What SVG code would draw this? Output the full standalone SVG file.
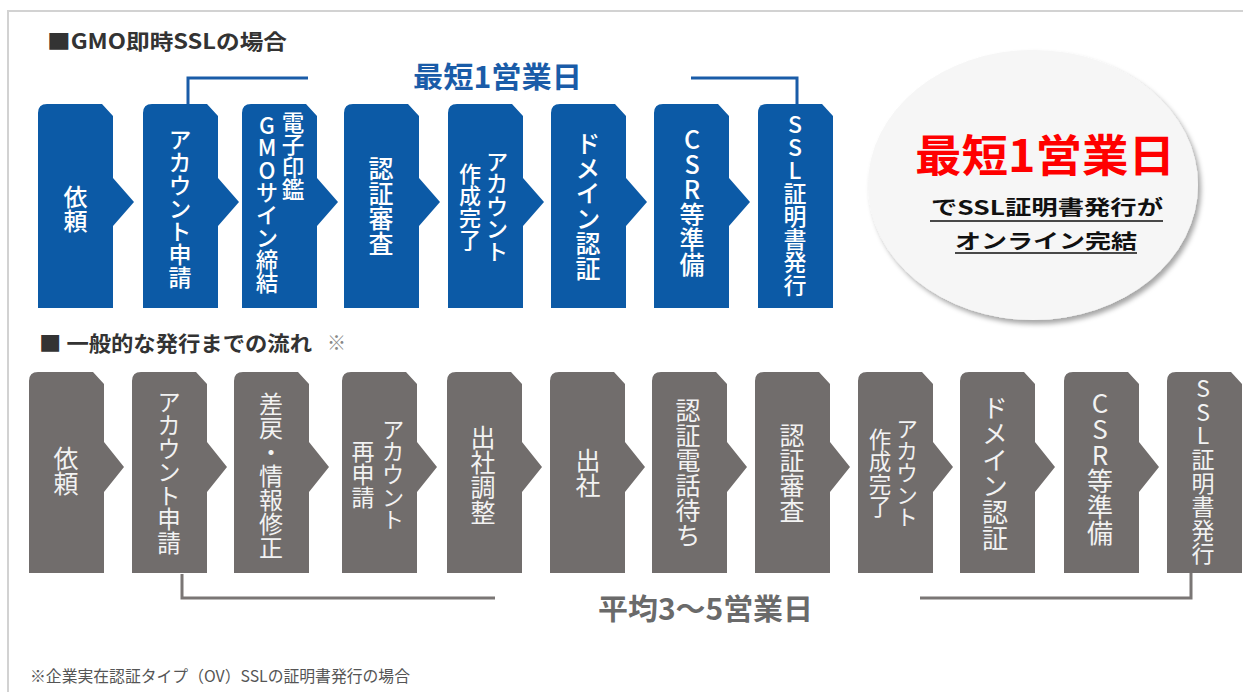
<svg xmlns="http://www.w3.org/2000/svg" xmlns:xlink="http://www.w3.org/1999/xlink" width="1243" height="692" viewBox="0 0 1243 692">
<style>
.jp{font-family:"Noto Sans CJK JP","Noto Sans",sans-serif}
.vt{font-family:"Noto Sans CJK JP",sans-serif;writing-mode:vertical-rl;text-orientation:upright;fill:#fff}
.vb{font-weight:500}
.vg{font-weight:400;fill:#f2f2f2}
.blue{fill:#0c5aa6}
.gray{fill:#716d6c}
.head{font-weight:700;fill:#333;font-size:21px}
</style>
<defs>
<path id="bArrow" d="M0,9 Q0,0 9,0 L64,0 L75,12 L75,74 L96,98 L75,122 L75,204 L0,204 Z"/>
<path id="bLast" d="M0,9 Q0,0 9,0 L64,0 L75,12 L75,204 L0,204 Z"/>
<path id="gArrow" d="M0,9 Q0,0 9,0 L64,0 L75,12 L75,70 L95,95 L75,120 L75,201 L0,201 Z"/>
<path id="gLast" d="M0,9 Q0,0 9,0 L64,0 L75,12 L75,201 L0,201 Z"/>
<filter id="sh" x="-10%" y="-10%" width="125%" height="125%">
<feDropShadow dx="3" dy="4" stdDeviation="2.5" flood-color="#000" flood-opacity="0.35"/>
</filter>
</defs>
<rect width="1243" height="692" fill="#fff"/>
<path d="M8,692 V11 H1243" fill="none" stroke="#d2d2d2" stroke-width="2"/>

<text id="title1" class="jp head" x="47" y="49" textLength="240" lengthAdjust="spacingAndGlyphs">■GMO即時SSLの場合</text>
<g id="title2">
<text class="jp head" x="39" y="351" font-size="22" textLength="273" lengthAdjust="spacingAndGlyphs">■ 一般的な発行までの流れ</text>
<text class="jp" x="327" y="350" font-size="19" fill="#888">※</text>
</g>

<g id="connectors" fill="none" stroke-width="3">
<path d="M188,104 V78 H308" stroke="#1a5ca8"/>
<path d="M691,78 H797 V104" stroke="#1a5ca8"/>
<path d="M182,574 V598 H495" stroke="#7a7675"/>
<path d="M920,598 H1191 V573" stroke="#7a7675"/>
</g>
<text id="label-blue" class="jp" x="413" y="88" font-size="29" font-weight="700" fill="#1a5ca8" textLength="169" lengthAdjust="spacingAndGlyphs">最短1営業日</text>
<text id="label-gray" class="jp" x="598" y="620" font-size="29" font-weight="700" fill="#6a6a6a" textLength="215" lengthAdjust="spacingAndGlyphs">平均3〜5営業日</text>

<!-- blue row -->
<g id="b1"><use xlink:href="#bArrow" class="blue" x="38" y="104"/><text class="vt vb" x="75.5" y="185" font-size="24">依頼</text></g>
<g id="b2"><use xlink:href="#bArrow" class="blue" x="143" y="104"/><text class="vt vb" x="180" y="128" font-size="23">アカウント申請</text></g>
<g id="b3"><use xlink:href="#bArrow" class="blue" x="242" y="104"/><text class="vt vb" x="293" y="111" font-size="22.5">電子印鑑</text><text class="vt vb" x="267" y="114" font-size="22.5">GMOサイン締結</text></g>
<g id="b4"><use xlink:href="#bArrow" class="blue" x="344" y="104"/><text class="vt vb" x="381" y="156" font-size="25">認証審査</text></g>
<g id="b5"><use xlink:href="#bArrow" class="blue" x="448" y="104"/><text class="vt vb" x="497" y="150" font-size="22.5">アカウント</text><text class="vt vb" x="470" y="163" font-size="22">作成完了</text></g>
<g id="b6"><use xlink:href="#bArrow" class="blue" x="551" y="104"/><text class="vt vb" x="588" y="131" font-size="25">ドメイン認証</text></g>
<g id="b7"><use xlink:href="#bArrow" class="blue" x="654" y="104"/><text class="vt vb" x="692" y="127" font-size="25">CSR等準備</text></g>
<g id="b8"><use xlink:href="#bLast" class="blue" x="758" y="104"/><text class="vt vb" x="795" y="113" font-size="23" textLength="184" lengthAdjust="spacing">SSL証明書発行</text></g>

<!-- circle -->
<g id="badge">
<ellipse cx="1033" cy="185" rx="165" ry="135" fill="#f6f6f6" filter="url(#sh)"/>
<text class="jp" x="915" y="172" font-size="44" font-weight="700" fill="#ff0000" textLength="260" lengthAdjust="spacingAndGlyphs">最短1営業日</text>
<text class="jp" x="931" y="215" font-size="20" font-weight="700" fill="#111" textLength="232" lengthAdjust="spacingAndGlyphs">でSSL証明書発行が</text>
<text class="jp" x="955" y="249" font-size="20" font-weight="700" fill="#111" textLength="182" lengthAdjust="spacingAndGlyphs">オンライン完結</text>
<path d="M930,221 H1163 M955,253 H1137" stroke="#111" stroke-width="1.5"/>
</g>

<!-- gray row -->
<g id="g1"><use xlink:href="#gArrow" class="gray" x="29" y="372"/><text class="vt vg" x="66" y="446" font-size="25">依頼</text></g>
<g id="g2"><use xlink:href="#gArrow" class="gray" x="132" y="372"/><text class="vt vg" x="169" y="390" font-size="23.5">アカウント申請</text></g>
<g id="g3"><use xlink:href="#gArrow" class="gray" x="234" y="372"/><text class="vt vg" x="271" y="392" font-size="24">差戻・情報修正</text></g>
<g id="g4"><use xlink:href="#gArrow" class="gray" x="342" y="372"/><text class="vt vg" x="393" y="418" font-size="22.6">アカウント</text><text class="vt vg" x="363" y="440" font-size="23">再申請</text></g>
<g id="g5"><use xlink:href="#gArrow" class="gray" x="447" y="372"/><text class="vt vg" x="483" y="425" font-size="25">出社調整</text></g>
<g id="g6"><use xlink:href="#gArrow" class="gray" x="550" y="372"/><text class="vt vg" x="588" y="448" font-size="25">出社</text></g>
<g id="g7"><use xlink:href="#gArrow" class="gray" x="652" y="372"/><text class="vt vg" x="688" y="398" font-size="25">認証電話待ち</text></g>
<g id="g8"><use xlink:href="#gArrow" class="gray" x="755" y="372"/><text class="vt vg" x="792" y="423" font-size="25">認証審査</text></g>
<g id="g9"><use xlink:href="#gArrow" class="gray" x="858" y="372"/><text class="vt vg" x="907" y="418" font-size="22">アカウント</text><text class="vt vg" x="880" y="428" font-size="22.5">作成完了</text></g>
<g id="g10"><use xlink:href="#gArrow" class="gray" x="960" y="372"/><text class="vt vg" x="995" y="395" font-size="26">ドメイン認証</text></g>
<g id="g11"><use xlink:href="#gArrow" class="gray" x="1064" y="372"/><text class="vt vg" x="1100" y="390" font-size="26">CSR等準備</text></g>
<g id="g12"><use xlink:href="#gLast" class="gray" x="1167" y="372"/><text class="vt vg" x="1203" y="377" font-size="23" textLength="188" lengthAdjust="spacing">SSL証明書発行</text></g>

<text id="footnote" class="jp" x="30" y="682" font-size="16" fill="#555" textLength="380" lengthAdjust="spacingAndGlyphs">※企業実在認証タイプ（OV）SSLの証明書発行の場合</text>
</svg>
